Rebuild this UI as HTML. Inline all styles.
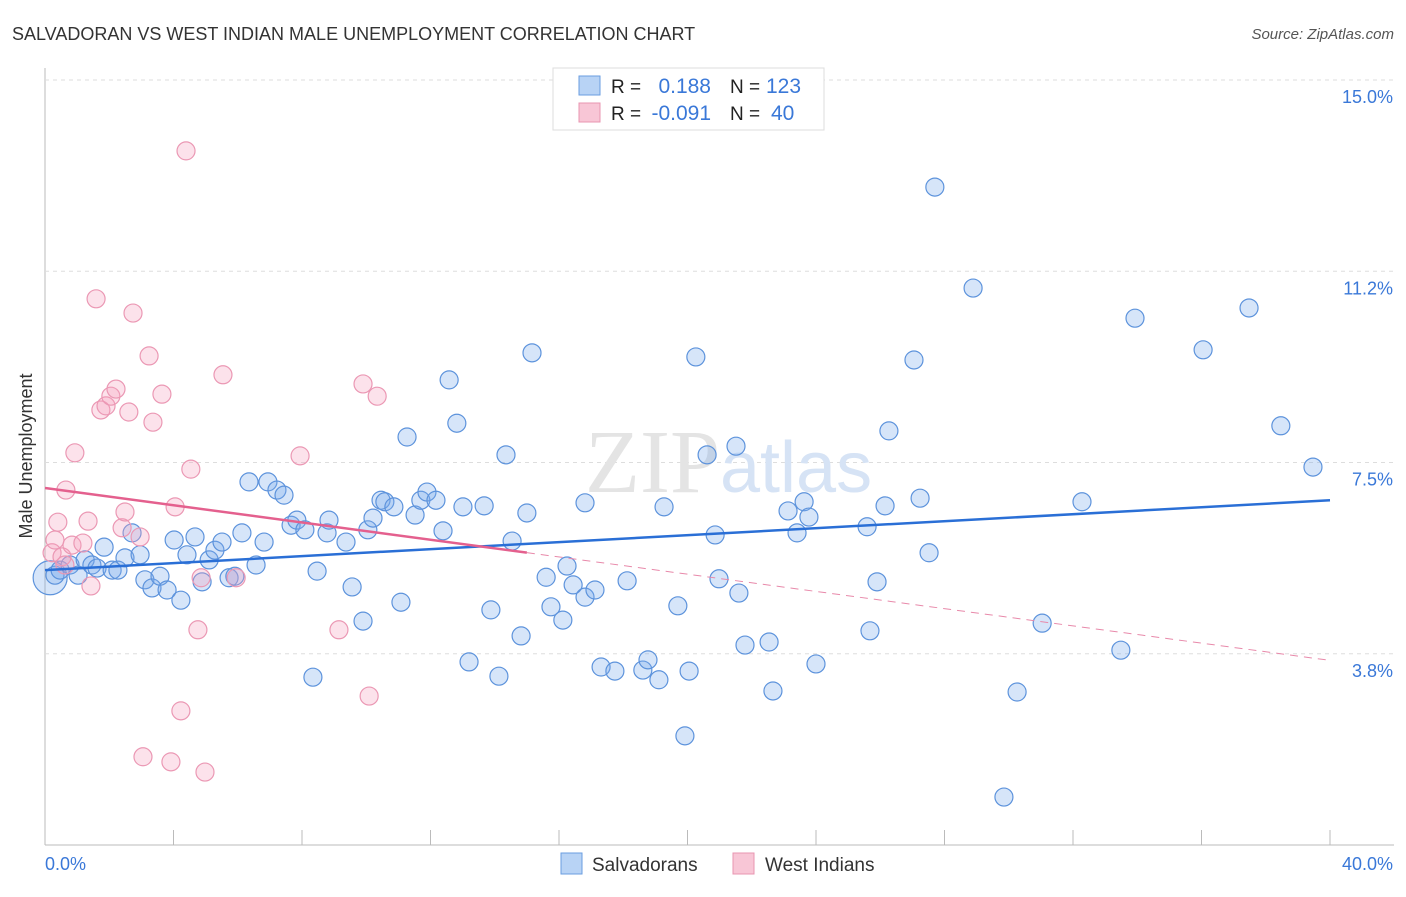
<!DOCTYPE html>
<html><head><meta charset="utf-8"><style>
body{margin:0;background:#fff;width:1406px;height:892px;overflow:hidden;font-family:"Liberation Sans",sans-serif}
</style></head><body>
<svg id="chart" width="1406" height="892" xmlns="http://www.w3.org/2000/svg">
<text x="12" y="40" font-size="18" fill="#333">SALVADORAN VS WEST INDIAN MALE UNEMPLOYMENT CORRELATION CHART</text>
<text x="1394" y="39" font-size="15" fill="#555" text-anchor="end" font-style="italic">Source: ZipAtlas.com</text>
<text x="32" y="456" font-size="18" fill="#333" text-anchor="middle" transform="rotate(-90 32 456)">Male Unemployment</text>
<g id="grid"></g>
<text x="720" y="492" font-size="90" fill="#e4e4e4" text-anchor="end" font-family="Liberation Serif,serif">ZIP</text>
<text x="720" y="492" font-size="72" fill="#d6e3f5">atlas</text>
<g id="marks"></g>
<g id="legend">
<rect x="553" y="68" width="271" height="62" fill="#fff" stroke="#ddd"/>
<rect x="579" y="76" width="21" height="19" fill="#b8d3f5" stroke="#6a9ee0"/>
<rect x="579" y="103" width="21" height="19" fill="#f8c6d6" stroke="#e895b0"/>
<text x="611" y="93" font-size="19" fill="#222">R =</text>
<text x="711" y="93" font-size="21" fill="#3a78d8" text-anchor="end">0.188</text>
<text x="730" y="93" font-size="19" fill="#222">N =</text>
<text x="766" y="93" font-size="21" fill="#3a78d8">123</text>
<text x="611" y="120" font-size="19" fill="#222">R =</text>
<text x="711" y="120" font-size="21" fill="#3a78d8" text-anchor="end">-0.091</text>
<text x="730" y="120" font-size="19" fill="#222">N =</text>
<text x="771" y="120" font-size="21" fill="#3a78d8">40</text>
</g>
<g>
<rect x="561" y="853" width="21" height="21" fill="#b8d3f5" stroke="#6a9ee0"/>
<text x="592" y="871" font-size="19" fill="#333">Salvadorans</text>
<rect x="733" y="853" width="21" height="21" fill="#f8c6d6" stroke="#e895b0"/>
<text x="765" y="871" font-size="19" fill="#333">West Indians</text>
</g>
</svg>
<script>
const xTicks=[0,4,8,12,16,20,24,28,32,36,40];
const yTicks=[15,11.25,7.5,3.75];
const yTickLabels=["15.0%","11.2%","7.5%","3.8%"];
const blueX=[0.16,0.31,0.47,0.78,1.03,1.25,1.46,1.62,1.84,2.09,2.27,2.49,2.71,2.96,3.11,3.33,3.58,3.80,4.02,4.23,4.42,4.67,4.89,5.11,5.29,5.51,5.73,5.91,6.13,6.35,6.57,6.82,6.94,7.22,7.44,7.66,7.84,8.09,8.34,8.47,8.78,8.84,9.37,9.56,9.90,10.05,10.21,10.46,10.58,10.86,11.08,11.27,11.52,11.70,11.89,12.17,12.39,12.58,12.82,13.01,13.20,13.67,13.88,14.13,14.35,14.54,14.82,15.00,15.16,15.60,15.75,16.12,16.25,16.44,16.81,16.81,17.12,17.31,17.74,18.12,18.61,18.77,19.11,19.27,19.70,19.92,20.05,20.26,20.61,20.86,20.98,21.51,21.60,21.79,22.54,22.66,23.13,23.41,23.63,23.78,24.00,25.59,25.68,25.90,26.15,26.27,27.05,27.24,27.52,27.70,28.89,29.85,30.26,31.04,32.28,33.49,33.93,36.05,37.48,38.47,39.47];
const blueY=[5.24,5.29,5.39,5.49,5.29,5.59,5.49,5.43,5.84,5.39,5.39,5.63,6.12,5.69,5.20,5.04,5.27,5.00,5.98,4.80,5.69,6.04,5.16,5.59,5.78,5.94,5.24,5.27,6.12,7.12,5.49,5.94,7.12,6.96,6.86,6.27,6.37,6.18,3.29,5.37,6.12,6.37,5.94,5.06,4.39,6.18,6.41,6.76,6.73,6.63,4.76,8.00,6.47,6.76,6.92,6.76,6.16,9.12,8.27,6.63,3.59,6.65,4.61,3.31,7.65,5.96,4.10,6.51,9.65,5.25,4.67,4.41,5.47,5.10,6.71,4.86,5.00,3.49,3.41,5.18,3.43,3.63,3.24,6.63,4.69,2.14,3.41,9.57,7.65,6.08,5.22,7.82,4.94,3.92,3.98,3.02,6.55,6.12,6.73,6.43,3.55,6.24,4.20,5.16,6.65,8.12,9.51,6.80,5.73,12.90,10.92,0.94,3.00,4.35,6.73,3.82,10.33,9.71,10.53,8.22,7.41];
const pinkX=[0.22,0.31,0.40,0.53,0.62,0.65,0.84,0.93,1.18,1.34,1.43,1.59,1.74,1.90,2.05,2.21,2.40,2.49,2.61,2.74,2.96,3.05,3.24,3.36,3.64,3.92,4.05,4.23,4.39,4.54,4.76,4.86,4.98,5.54,5.95,7.94,9.15,9.90,10.09,10.34];
const pinkY=[5.73,5.98,6.33,5.65,5.49,6.96,5.88,7.69,5.92,6.35,5.08,10.71,8.53,8.61,8.80,8.94,6.22,6.53,8.49,10.43,6.04,1.73,9.59,8.29,8.84,1.63,6.63,2.63,13.61,7.37,4.22,5.24,1.43,9.22,5.24,7.63,4.22,9.04,2.92,8.80];
const blueTrend=[5.39,6.76];   // value at x=0 and x=40
const pinkTrend=[7.0,3.62];    // value at x=0 and x=40
const pinkSolidEnd=15;

const NS="http://www.w3.org/2000/svg";
const X=v=>45+v/40*1285, Y=v=>845-v*51;
const grid=document.getElementById('grid'), marks=document.getElementById('marks');
function mk(tag,attrs,parent){const e=document.createElementNS(NS,tag);for(const k in attrs)e.setAttribute(k,attrs[k]);parent.appendChild(e);return e;}
let ax=mk('line',{x1:45,y1:68,x2:45,y2:845,stroke:'#bbb'},grid);


let bx=mk('line',{x1:45,y1:845,x2:1394,y2:845,stroke:'#bbb'},grid);


yTicks.forEach((t,i)=>{
  const g=mk('line',{x1:45,y1:Y(t),x2:1394,y2:Y(t),stroke:'#ddd','stroke-dasharray':'4,4'},grid);
  
  
  const l=mk('text',{x:1393,y:Y(t)+23,'font-size':18,fill:'#3a78d8','text-anchor':'end'},grid);
  l.textContent=yTickLabels[i];
  
  
});
xTicks.forEach(t=>{
  const m=mk('line',{x1:X(t),y1:830,x2:X(t),y2:845,stroke:'#bbb'},grid);
  
  
});
let xl0=mk('text',{x:45,y:870,'font-size':18,fill:'#3a78d8'},grid);xl0.textContent=xTicks[0].toFixed(1)+'%';


let xl1=mk('text',{x:1393,y:870,'font-size':18,fill:'#3a78d8','text-anchor':'end'},grid);xl1.textContent=xTicks[xTicks.length-1].toFixed(1)+'%';



blueX.forEach((v,i)=>{
  const c=mk('circle',{cx:X(v),cy:Y(blueY[i]),r:i==0?17:9,fill:'rgba(120,170,235,0.3)',stroke:'#5d93dc','stroke-width':1.2},marks);
  
  
});
pinkX.forEach((v,i)=>{
  const c=mk('circle',{cx:X(v),cy:Y(pinkY[i]),r:9,fill:'rgba(245,160,190,0.3)',stroke:'#eb98b4','stroke-width':1.2},marks);
  
  
});
const pAt=x=>pinkTrend[0]+(pinkTrend[1]-pinkTrend[0])*x/40;
let bl=mk('line',{x1:X(0),y1:Y(blueTrend[0]),x2:X(40),y2:Y(blueTrend[1]),stroke:'#2a6fd6','stroke-width':2.5},marks);


let pl=mk('line',{x1:X(0),y1:Y(pAt(0)),x2:X(pinkSolidEnd),y2:Y(pAt(pinkSolidEnd)),stroke:'#e4608e','stroke-width':2.5},marks);


let pd=mk('line',{x1:X(pinkSolidEnd),y1:Y(pAt(pinkSolidEnd)),x2:X(40),y2:Y(pAt(40)),stroke:'#e889aa','stroke-width':1,'stroke-dasharray':'8,6'},marks);


</script>
</body></html>
